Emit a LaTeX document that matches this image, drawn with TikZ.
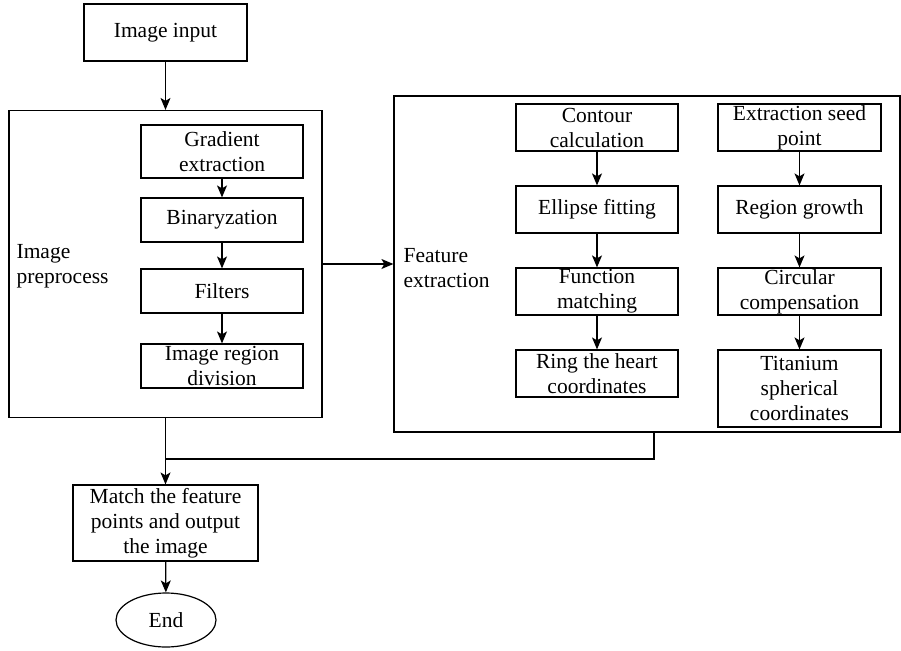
\documentclass[tikz,border=0pt]{standalone}
\usepackage{fontspec}
\setmainfont{Liberation Serif}
\usetikzlibrary{arrows.meta,positioning,shapes.geometric}

\begin{document}
\begin{tikzpicture}[x=1pt,y=-1pt,>={Stealth[length=12pt,width=10pt,inset=3pt]},line width=1.2pt,
  every node/.style={font=\fontsize{21.5}{25}\selectfont,inner sep=0pt},
  stepbox/.style={draw,align=center,minimum width=162pt,minimum height=47pt},
  groupbox/.style={draw},
  node distance=82pt]
\useasboundingbox (0,0) rectangle (901,650);

\node[groupbox,minimum width=313pt,minimum height=307pt] (pre) at (165.5,264) {};
\node[groupbox,minimum width=506pt,minimum height=336pt] (feat) at (647,264) {};
\node[align=left,anchor=west] (prelabel) at (16,266) {Image\\preprocess};
\node[align=left,anchor=west] (featlabel) at (403,268) {Feature\\extraction};

\node[stepbox,minimum width=163pt,minimum height=57pt] (input) at (165.5,32.5) {Image input};

\node[stepbox,minimum height=53pt] (grad) at (222,151.5) {Gradient\\extraction};
\node[stepbox,minimum height=44pt] (bin) at (222,220) {Binaryzation};
\node[stepbox,minimum height=44pt] (filt) at (222,291) {Filters};
\node[stepbox,minimum height=44pt] (div) at (222,366) {Image region\\division};

\node[stepbox] (cont) at (597,127.5) {Contour\\calculation};
\node[stepbox,below of=cont] (ellip) {Ellipse fitting};
\node[stepbox,below of=ellip] (func) {Function\\matching};
\node[stepbox,below of=func] (ring) {Ring the heart\\coordinates};

\node[stepbox,minimum width=163pt] (seed) at (799.5,127.5) {Extraction seed\\point};
\node[stepbox,minimum width=163pt,below of=seed] (grow) {Region growth};
\node[stepbox,minimum width=163pt,below of=grow] (circ) {Circular\\compensation};
\node[stepbox,minimum width=163pt,minimum height=77pt,below of=circ,yshift=-15pt] (tita) {Titanium\\spherical\\coordinates};

\node[stepbox,minimum width=185pt,minimum height=76pt] (match) at (165.5,523) {Match the feature\\points and output\\the image};
\node[draw,ellipse,minimum width=100pt,minimum height=54pt] (end) at (166,620) {End};

\coordinate (join) at (165.5,459);

\path[->]
(input) edge (pre)
(grad) edge (bin)
(bin) edge (filt)
(filt) edge (div)
(cont) edge (ellip)
(ellip) edge (func)
(func) edge (ring)
(seed) edge (grow)
(grow) edge (circ)
(circ) edge (tita)
(pre) edge (feat)
(pre) edge (match)
(match) edge (end)
;
\draw ([xshift=7pt]feat.south) |- (join);
\end{tikzpicture}
\end{document}
